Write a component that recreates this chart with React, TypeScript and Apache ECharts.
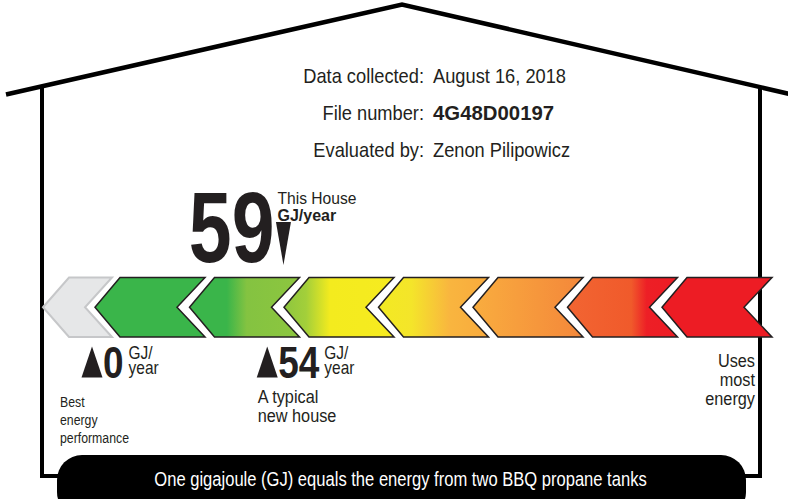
import React, { useEffect, useRef } from 'react';
import * as echarts from 'echarts';

// ---- data ----
const infoLabels = ['Data collected:', 'File number:', 'Evaluated by:'];
const infoValues = ['August 16, 2018', '4G48D00197', 'Zenon Pilipowicz'];
const thisHouseValue = 59;
const thisHouseTitle = 'This House';
const unitLabel = 'GJ/year';
const unitTop = 'GJ/';
const unitBottom = 'year';
const benchmarkValues = [0, 54];
const benchmarkNotes = [
  ['Best', 'energy', 'performance'],
  ['A typical', 'new house'],
];
const worstNote = ['Uses', 'most', 'energy'];
const footnote = 'One gigajoule (GJ) equals the energy from two BBQ propane tanks';
const scaleMin = 0;
const scaleMax = 100;
const chevronColors: [number, string][][] = [
  [[0, '#3ab54a'], [1, '#3ab54a']],
  [[0, '#3ab54a'], [0.34, '#3ab54a'], [0.52, '#84c341'], [1, '#8dc63f']],
  [[0, '#8dc63f'], [0.2, '#a3cf3a'], [0.42, '#f4eb1e'], [1, '#f6eb20']],
  [[0, '#f3ea22'], [0.3, '#f4e52a'], [0.65, '#f9b53f'], [1, '#f9aa3d']],
  [[0, '#f9ad3f'], [1, '#f4873a']],
  [[0, '#f26532'], [0.58, '#f05a2b'], [0.72, '#ed1f26'], [1, '#ed1c24']],
  [[0, '#ed1c24'], [1, '#ed1c24']],
];

const FONT = "'Liberation Sans', Arial, Helvetica, sans-serif";
const INK = '#231f20';

type TOpts = { bold?: boolean; align?: string; sx?: number; fill?: string };
const txt = (text: string, x: number, y: number, size: number, o: TOpts = {}) => ({
  type: 'text',
  x,
  y,
  scaleX: o.sx ?? 0.87,
  z: 5,
  style: {
    text,
    fontSize: size,
    fontFamily: FONT,
    fontWeight: o.bold ? 'bold' : 'normal',
    fill: o.fill ?? INK,
    align: o.align ?? 'left',
    textAlign: o.align ?? 'left',
    verticalAlign: 'middle',
    textVerticalAlign: 'middle',
  },
});

export default function App() {
  const ref = useRef<HTMLDivElement>(null);
  useEffect(() => {
    const chart = echarts.init(ref.current!, null, { renderer: 'svg' });
    chart.setOption({
      animation: false,
      grid: { left: 92, top: 277, width: 324.5, height: 60, show: false },
      xAxis: { type: 'value', min: scaleMin, max: scaleMax, show: false },
      yAxis: { type: 'value', min: 0, max: 1, show: false },
      series: [
        {
          type: 'scatter',
          name: thisHouseTitle,
          data: [[thisHouseValue, 1]],
          symbol: 'triangle',
          symbolRotate: 180,
          symbolSize: [15, 43],
          symbolOffset: [0, -33.5],
          itemStyle: { color: INK, opacity: 1 },
          z: 20,
          silent: true,
        },
        {
          type: 'scatter',
          name: 'Benchmarks',
          data: benchmarkValues.map((v) => [v, 0]),
          symbol: 'triangle',
          symbolSize: [21, 31],
          symbolOffset: [0, 25],
          itemStyle: { color: INK, opacity: 1 },
          z: 20,
          silent: true,
        },
      ],
    });

    const px = (v: number) => chart.convertToPixel({ xAxisIndex: 0 }, v) as number;
    const els: any[] = [];

    // house outline
    els.push({
      type: 'polyline', z: 1,
      shape: { points: [[6, 94.5], [402, 4.5], [792, 94.5]] },
      style: { stroke: '#000', lineWidth: 4.5, fill: null },
    });
    els.push({
      type: 'polyline', z: 1,
      shape: { points: [[42, 86], [42, 476], [80, 476]] },
      style: { stroke: '#000', lineWidth: 4, fill: null },
    });
    els.push({
      type: 'polyline', z: 1,
      shape: { points: [[760, 88], [760, 476], [720, 476]] },
      style: { stroke: '#000', lineWidth: 4, fill: null },
    });
    els.push({
      type: 'rect', z: 2,
      shape: { x: 57, y: 455, width: 689, height: 62, r: 25 },
      style: { fill: '#000' },
    });

    // rating scale chevrons
    const yTop = 277.5, yBot = 337, yMid = 307.25;
    els.push({
      type: 'polygon', z: 2,
      shape: { points: [[43, yMid], [69, yTop], [112, yTop], [85, yMid], [112, yBot], [69, yBot]] },
      style: { fill: '#e6e7e8', stroke: '#c6c7c9', lineWidth: 2 },
    });
    chevronColors.forEach((stops, i) => {
      const t = 95 + 94.5 * i;
      els.push({
        type: 'polygon', z: 2,
        shape: {
          points: [[t, yMid], [t + 25, yTop], [t + 110, yTop], [t + 82, yMid], [t + 110, yBot], [t + 25, yBot]],
        },
        style: {
          fill: new echarts.graphic.LinearGradient(0, 0, 1, 0, stops.map(([offset, color]) => ({ offset, color }))),
          stroke: INK,
          lineWidth: 1.5,
        },
      });
    });

    // header info
    const rowY = [75.5, 112.5, 149.5];
    infoLabels.forEach((l, i) => {
      els.push(txt(l, 424, rowY[i], 21, { align: 'right', sx: 0.87 }));
      els.push(txt(infoValues[i], 433, rowY[i], 21, i === 1 ? { bold: true, sx: 0.97 } : { sx: 0.87 }));
    });

    // this house
    const hx = px(thisHouseValue);
    els.push(txt(String(thisHouseValue), hx - 9, 227, 100, { bold: true, align: 'right', sx: 0.77 }));
    els.push(txt(thisHouseTitle, hx - 6, 197.5, 17, { sx: 0.92 }));
    els.push(txt(unitLabel, hx - 6, 215, 16, { bold: true, sx: 1 }));

    // benchmarks
    benchmarkValues.forEach((v, i) => {
      const x = px(v);
      const s = String(v);
      const numLeft = x + 11;
      const numW = s.length * 44 * 0.556 * 0.84;
      els.push(txt(s, numLeft, 362.5, 44, { bold: true, sx: 0.84 }));
      els.push(txt(unitTop, numLeft + numW + 5, 353, 18, { sx: 0.86 }));
      els.push(txt(unitBottom, numLeft + numW + 5, 368, 18, { sx: 0.86 }));
      const notes = benchmarkNotes[i];
      if (i === 0) {
        notes.forEach((n, j) => els.push(txt(n, x - 32, 401.8 + j * 18, 15, { sx: 0.82 })));
      } else {
        notes.forEach((n, j) => els.push(txt(n, x - 9.5, 396.8 + j * 19, 18.5, { sx: 0.88 })));
      }
    });

    // worst end
    worstNote.forEach((n, j) => els.push(txt(n, 755, 360.6 + j * 19, 18.5, { align: 'right', sx: 0.88 })));

    // footnote
    els.push(txt(footnote, 400.5, 479.5, 19.5, { align: 'center', sx: 0.85, fill: '#ffffff' }));

    chart.setOption({ graphic: { elements: els } });
    return () => chart.dispose();
  }, []);
  return (
    <div
      ref={ref}
      style={{ position: 'fixed', left: 0, top: 0, width: 788, height: 499, background: '#fff' }}
    />
  );
}
